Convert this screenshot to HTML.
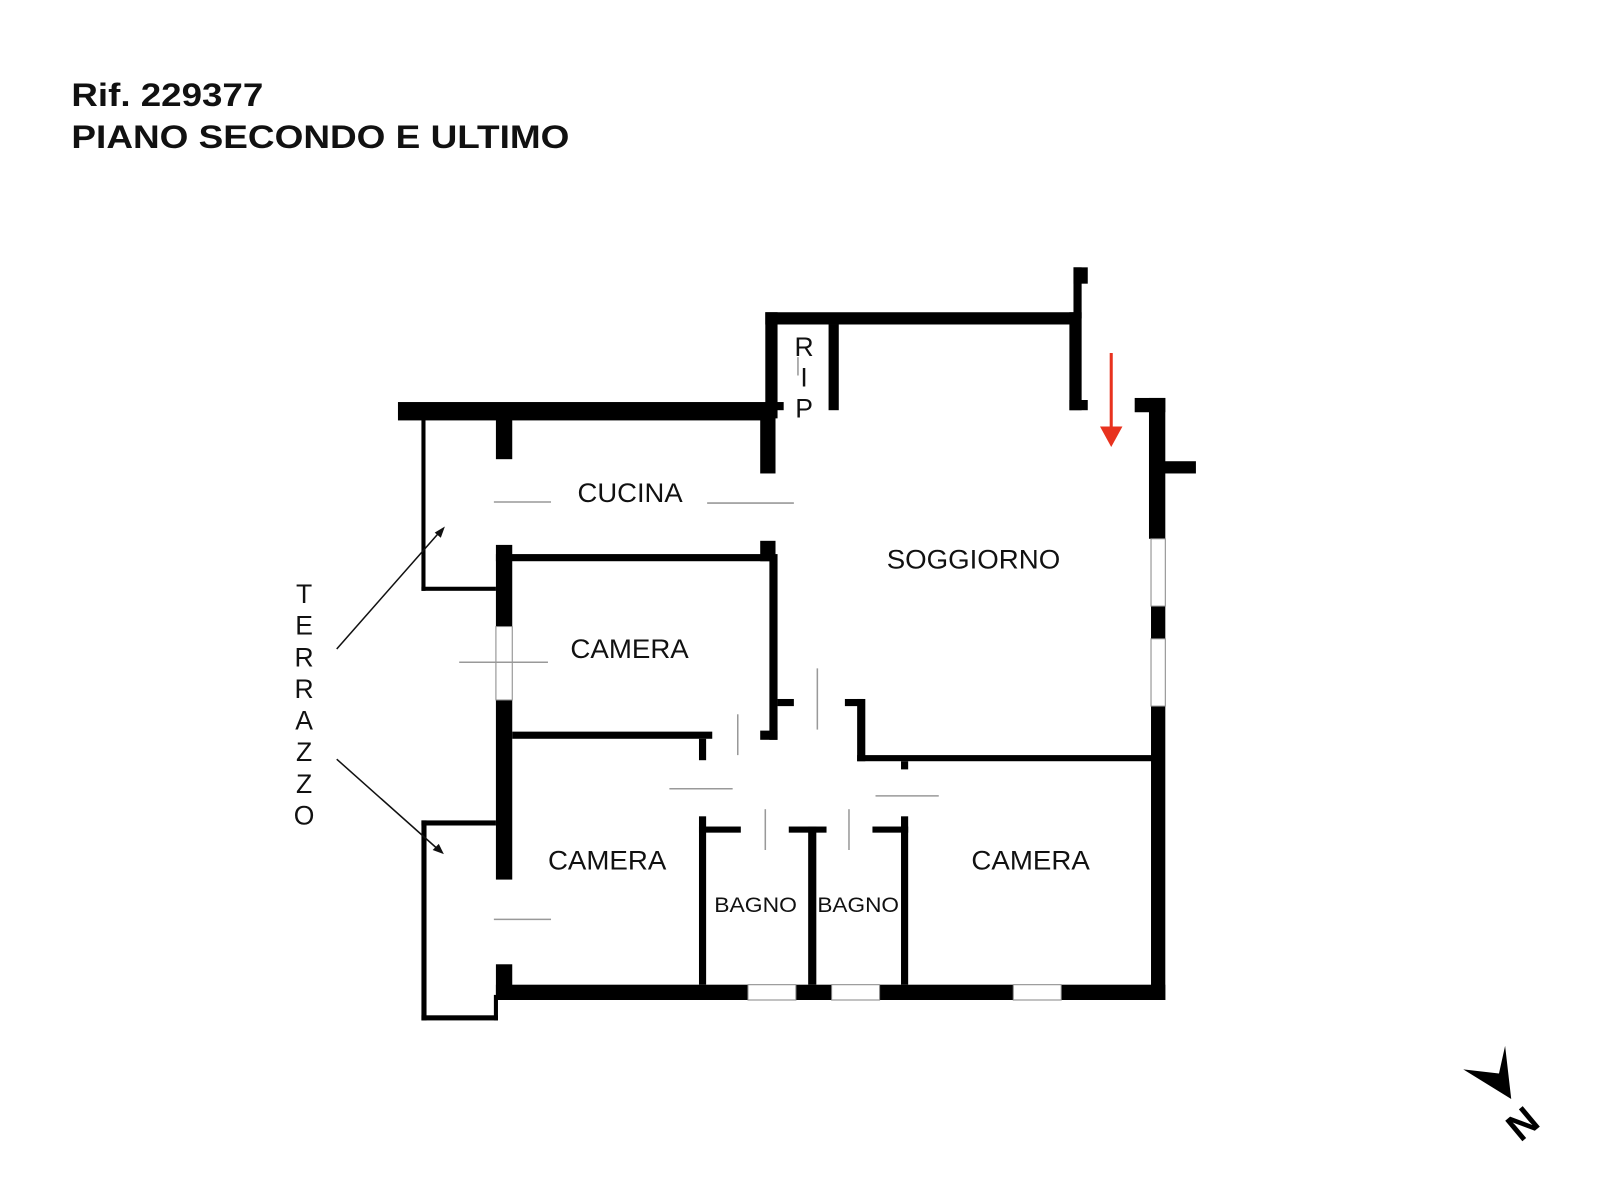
<!DOCTYPE html>
<html><head><meta charset="utf-8"><style>
html,body{margin:0;padding:0;background:#fff;}
svg{display:block;}
</style></head><body>
<svg width="1600" height="1200" viewBox="0 0 1568 1176" preserveAspectRatio="none" xmlns="http://www.w3.org/2000/svg">
<rect width="1568" height="1176" fill="#fff"/>
<g font-family="Liberation Sans, Arial, sans-serif" font-weight="bold" font-size="32" fill="#111">
<text x="70" y="104" textLength="188" lengthAdjust="spacingAndGlyphs">Rif. 229377</text>
<text x="70" y="145" textLength="488" lengthAdjust="spacingAndGlyphs">PIANO SECONDO E ULTIMO</text>
</g>
<g fill="#000">
<rect x="390" y="394" width="370" height="18"/>
<rect x="750" y="306" width="12" height="104"/>
<rect x="745" y="404" width="15" height="60"/>
<rect x="750" y="306" width="305" height="12"/>
<rect x="760" y="394" width="8" height="8"/>
<rect x="812" y="318" width="10" height="84"/>
<rect x="1048" y="306" width="12" height="96"/>
<rect x="1048" y="392" width="18" height="10"/>
<rect x="1052" y="262" width="14" height="16"/>
<rect x="1052" y="262" width="8" height="50"/>
<rect x="1112" y="390" width="30" height="14"/>
<rect x="1126" y="390" width="16" height="138"/>
<rect x="1140" y="452" width="32" height="12"/>
<rect x="1128" y="594" width="14" height="32"/>
<rect x="1128" y="692" width="14" height="288"/>
<rect x="486" y="965" width="247" height="15"/>
<rect x="780" y="965" width="35" height="15"/>
<rect x="862" y="965" width="131" height="15"/>
<rect x="1040" y="965" width="102" height="15"/>
<rect x="413" y="410" width="4" height="169"/>
<rect x="413" y="575" width="73" height="4"/>
<rect x="486" y="410" width="16" height="40"/>
<rect x="486" y="534" width="16" height="80"/>
<rect x="486" y="686" width="16" height="176"/>
<rect x="486" y="543" width="274" height="7"/>
<rect x="745" y="530" width="15" height="20"/>
<rect x="754" y="543" width="8" height="182"/>
<rect x="762" y="685" width="16" height="7"/>
<rect x="745" y="716" width="17" height="9"/>
<rect x="502" y="717" width="196" height="7"/>
<rect x="685" y="724" width="7" height="21"/>
<rect x="828" y="685" width="18" height="7"/>
<rect x="840" y="685" width="8" height="61"/>
<rect x="840" y="740" width="290" height="6"/>
<rect x="883" y="746" width="7" height="8"/>
<rect x="685" y="800" width="7" height="165"/>
<rect x="685" y="810" width="41" height="6"/>
<rect x="773" y="810" width="37" height="6"/>
<rect x="792" y="810" width="8" height="155"/>
<rect x="855" y="810" width="35" height="6"/>
<rect x="883" y="800" width="7" height="165"/>
<rect x="413" y="804" width="73" height="5"/>
<rect x="413" y="804" width="5" height="196"/>
<rect x="413" y="995" width="75" height="5"/>
<rect x="484" y="975" width="4" height="25"/>
<rect x="486" y="945" width="16" height="35"/>
</g>
<g fill="none" stroke="#888" stroke-width="1">
<rect x="1128" y="528" width="14" height="66"/>
<rect x="1128" y="626" width="14" height="66"/>
<rect x="486" y="614" width="16" height="72"/>
<rect x="733" y="965" width="47" height="15"/>
<rect x="815" y="965" width="47" height="15"/>
<rect x="993" y="965" width="47" height="15"/>
</g>
<g stroke="#999" stroke-width="1.5">
<line x1="484" y1="492" x2="540" y2="492"/>
<line x1="693" y1="493" x2="778" y2="493"/>
<line x1="450" y1="649" x2="537" y2="649"/>
<line x1="656" y1="773" x2="718" y2="773"/>
<line x1="858" y1="780" x2="920" y2="780"/>
<line x1="723" y1="700" x2="723" y2="740"/>
<line x1="801" y1="655" x2="801" y2="715"/>
<line x1="750" y1="793" x2="750" y2="833"/>
<line x1="832" y1="793" x2="832" y2="833"/>
<line x1="484" y1="901" x2="540" y2="901"/>
<line x1="782" y1="350" x2="782" y2="368"/>
</g>
<g font-family="Liberation Sans, Arial, sans-serif" fill="#111" font-size="26">
<text x="566" y="492" textLength="103" lengthAdjust="spacingAndGlyphs">CUCINA</text>
<text x="869" y="557" textLength="170" lengthAdjust="spacingAndGlyphs">SOGGIORNO</text>
<text x="559" y="645" textLength="116" lengthAdjust="spacingAndGlyphs">CAMERA</text>
<text x="537" y="852" textLength="116" lengthAdjust="spacingAndGlyphs">CAMERA</text>
<text x="952" y="852" textLength="116" lengthAdjust="spacingAndGlyphs">CAMERA</text>
<text x="700" y="894" font-size="21" textLength="81" lengthAdjust="spacingAndGlyphs">BAGNO</text>
<text x="801" y="894" font-size="21" textLength="80" lengthAdjust="spacingAndGlyphs">BAGNO</text>
<g text-anchor="middle">
<text x="788" y="349">R</text>
<text x="788" y="379">I</text>
<text x="788" y="409">P</text>
<text x="298" y="591">T</text>
<text x="298" y="622">E</text>
<text x="298" y="653">R</text>
<text x="298" y="684">R</text>
<text x="298" y="715">A</text>
<text x="298" y="746">Z</text>
<text x="298" y="777">Z</text>
<text x="298" y="808">O</text>
</g>
</g>
<g stroke="#111" stroke-width="1.5">
<line x1="330" y1="636" x2="432" y2="520"/>
<line x1="330" y1="744" x2="430" y2="833"/>
</g>
<polygon points="436,516 426,522 432,527" fill="#111"/>
<polygon points="435,837 424,833 430,827" fill="#111"/>
<line x1="1089" y1="346" x2="1089" y2="422" stroke="#e8321e" stroke-width="3"/>
<polygon points="1078,418 1100,418 1089,438" fill="#e8321e"/>
<polygon points="1475,1025 1469,1052 1434,1048 1481,1077" fill="#000"/>
<text x="0" y="0" font-family="Liberation Sans, Arial, sans-serif" font-weight="bold" font-size="38" fill="#000" transform="translate(1490,1120) rotate(-40)">N</text>
</svg>
</body></html>
